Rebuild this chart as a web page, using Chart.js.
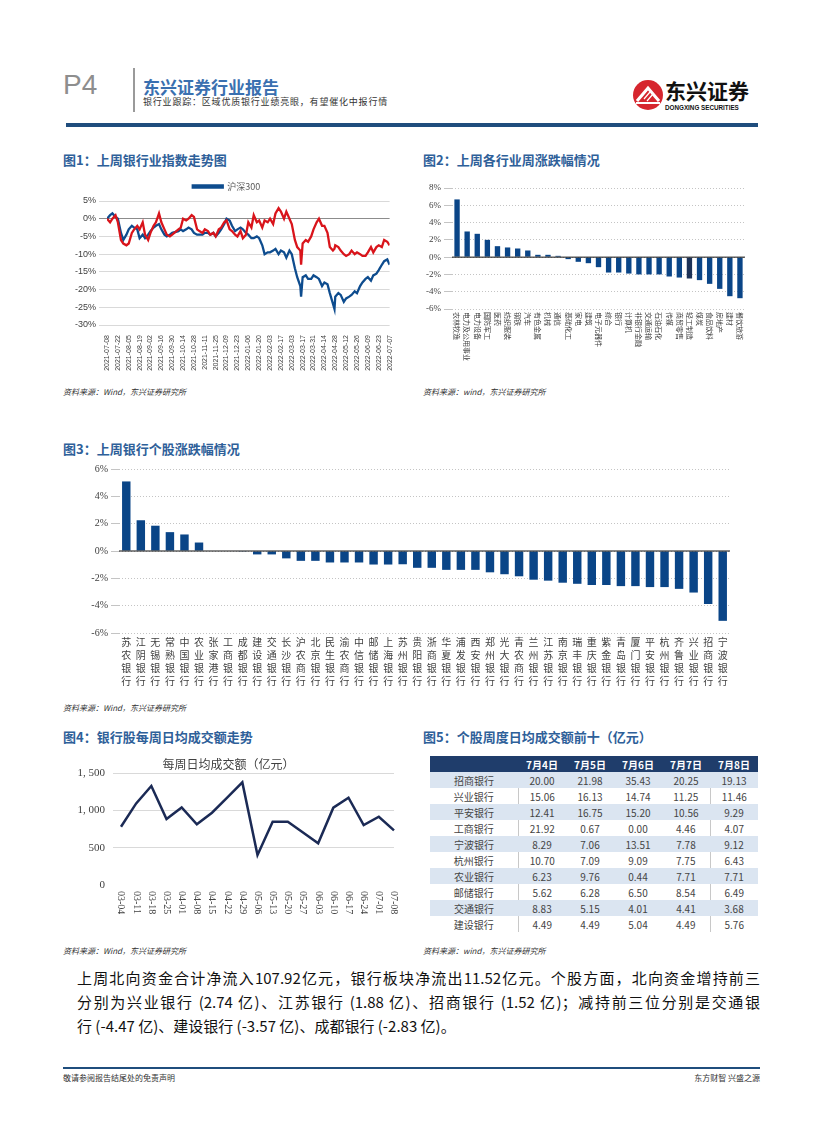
<!DOCTYPE html>
<html>
<head>
<meta charset="utf-8">
<script src="https://cdn.jsdelivr.net/npm/chart.js@4.4.1/dist/chart.umd.min.js"></script>
<style>
body { margin: 0; width: 827px; height: 1122px; position: relative; background: #fff; overflow: hidden; font-family: "Noto Sans CJK SC", sans-serif; }
.abs { position: absolute; }
.ttl { font-size: 13px; line-height: 14px; font-weight: bold; color: #2e6099; white-space: nowrap; }
.src { font-size: 8px; line-height: 9px; font-style: italic; color: #333; white-space: nowrap; }
.para { left: 77px; width: 683px; font-size: 15px; line-height: 20px; color: #111; text-align: justify; text-align-last: justify; white-space: nowrap; }
table { border-collapse: collapse; font-size: 10px; color: #444; }
td, th { height: 16px; padding: 0; text-align: center; }
th { background: #1f3d6b; color: #fff; font-weight: bold; }
</style>
</head>
<body>

<div class="abs" style="left:63px;top:70px;font-family:'Liberation Sans';font-size:28px;line-height:30px;color:#8e8e8e;">P4</div>
<div class="abs" style="left:133px;top:68px;width:2px;height:44px;background:#9a9a9a;"></div>
<div class="abs" style="left:143px;top:78px;font-size:17px;line-height:17px;font-weight:bold;color:#3a70b0;">东兴证券行业报告</div>
<div class="abs" style="left:143px;top:97px;font-size:9px;line-height:10px;color:#333;letter-spacing:0.8px;">银行业跟踪：区域优质银行业绩亮眼，有望催化中报行情</div>
<svg class="abs" style="left:630px;top:76px;" width="130" height="40">
  <circle cx="18" cy="19" r="15" fill="#d6262e"/>
  <path d="M7 25 L18 12 L29 25" stroke="#fff" stroke-width="3" fill="none"/>
  <path d="M11 21 L17 14 M14 23 L20 16 M17 25 L23 18" stroke="#fff" stroke-width="1.2" fill="none"/>
  <rect x="6" y="26" width="24" height="2" fill="#fff"/>
  <text x="35" y="23" font-family="Noto Sans CJK SC" font-weight="bold" font-size="21" fill="#111">东兴证券</text>
  <text x="35" y="34" font-family="Liberation Sans" font-weight="bold" font-size="6.3" fill="#111">DONGXING SECURITIES</text>
</svg>
<div class="abs" style="left:66px;top:123px;width:692px;height:4px;background:#1f4d7d;"></div>

<div class="abs ttl" style="left:63px;top:153px;">图1：上周银行业指数走势图</div>
<div class="abs ttl" style="left:423px;top:153px;">图2：上周各行业周涨跌幅情况</div>
<canvas id="chart1" class="abs" style="left:63px;top:174px;" width="337" height="206"></canvas>
<canvas id="chart2" class="abs" style="left:420px;top:178px;" width="340" height="192"></canvas>
<div class="abs src" style="left:63px;top:387px;">资料来源：Wind，东兴证券研究所</div>
<div class="abs src" style="left:423px;top:387px;">资料来源：wind，东兴证券研究所</div>

<div class="abs ttl" style="left:63px;top:442px;">图3：上周银行个股涨跌幅情况</div>
<canvas id="chart3" class="abs" style="left:63px;top:460px;" width="680" height="240"></canvas>
<div class="abs src" style="left:63px;top:703px;">资料来源：Wind，东兴证券研究所</div>

<div class="abs ttl" style="left:63px;top:730px;">图4：银行股每周日均成交额走势</div>
<div class="abs ttl" style="left:423px;top:730px;">图5：个股周度日均成交额前十（亿元）</div>
<canvas id="chart4" class="abs" style="left:63px;top:750px;" width="340" height="177"></canvas>
<div class="abs" style="left:430px;top:756px;">
  <table id="tbl5"></table>
</div>
<div class="abs src" style="left:63px;top:946px;">资料来源：Wind，东兴证券研究所</div>
<div class="abs src" style="left:423px;top:946px;">资料来源：wind，东兴证券研究所</div>

<div class="abs para" style="top:968px;">上周北向资金合计净流入107.92亿元，银行板块净流出11.52亿元。个股方面，北向资金增持前三</div>
<div class="abs para" style="top:992px;">分别为兴业银行 (2.74 亿)、江苏银行 (1.88 亿)、招商银行 (1.52 亿)；减持前三位分别是交通银</div>
<div class="abs para" style="top:1016px;text-align-last:left;">行 (-4.47 亿)、建设银行 (-3.57 亿)、成都银行 (-2.83 亿)。</div>

<div class="abs" style="left:63px;top:1067px;width:697px;height:2px;background:#1f4d7d;"></div>
<div class="abs" style="left:63px;top:1073px;font-size:8px;line-height:9px;color:#333;">敬请参阅报告结尾处的免责声明</div>
<div class="abs" style="left:660px;top:1073px;width:100px;text-align:right;font-size:8px;line-height:9px;color:#333;">东方财智 兴盛之源</div>

<script>
// 图1 数据
var dates1 = [
    '2021-07-08','2021-07-12','2021-07-15','2021-07-19','2021-07-22','2021-07-26','2021-07-29',
    '2021-08-02','2021-08-05','2021-08-09','2021-08-12','2021-08-16','2021-08-19','2021-08-23','2021-08-26','2021-08-30',
    '2021-09-02','2021-09-06','2021-09-09','2021-09-13','2021-09-16','2021-09-20','2021-09-23','2021-09-27','2021-09-30',
    '2021-10-08','2021-10-11','2021-10-14','2021-10-18','2021-10-21','2021-10-25','2021-10-28',
    '2021-11-01','2021-11-04','2021-11-08','2021-11-11','2021-11-15','2021-11-18','2021-11-22','2021-11-25','2021-11-29',
    '2021-12-02','2021-12-06','2021-12-09','2021-12-13','2021-12-16','2021-12-20','2021-12-23','2021-12-27','2021-12-30',
    '2022-01-03','2022-01-06','2022-01-10','2022-01-13','2022-01-17','2022-01-20','2022-01-24','2022-01-27','2022-01-31',
    '2022-02-03','2022-02-07','2022-02-10','2022-02-14','2022-02-17','2022-02-21','2022-02-24','2022-02-28',
    '2022-03-03','2022-03-07','2022-03-10','2022-03-14','2022-03-15','2022-03-17','2022-03-21','2022-03-24','2022-03-28','2022-03-31',
    '2022-04-04','2022-04-07','2022-04-11','2022-04-14','2022-04-18','2022-04-21','2022-04-25','2022-04-27','2022-04-28',
    '2022-05-02','2022-05-05','2022-05-09','2022-05-12','2022-05-16','2022-05-19','2022-05-23','2022-05-26','2022-05-30',
    '2022-06-02','2022-06-06','2022-06-09','2022-06-13','2022-06-16','2022-06-20','2022-06-23','2022-06-27','2022-06-30',
    '2022-07-04','2022-07-07'
];
var hs300 = [
    0, 1, 1.5, 0.5, 0, -4, -6,
    -4.5, -3, -2, -2.5, -3, -5.5, -4.5, -5.5, -4.5,
    -3.5, -2.5, -2, -1.5, -3, -4.5, -5, -4.5, -4,
    -3.5, -3, -3.5, -3, -2.5, -3, -4,
    -4.5, -4.5, -4.5, -4, -4, -4.5, -4, -5, -4,
    -3, -1.5, 0, -0.5, -2, -3.5, -3, -2.5, -3,
    -4, -4.5, -5.5, -5.5, -5, -5.5, -7.5, -10, -9.5,
    -9.5, -9, -8.5, -10, -9, -9.5, -11, -9,
    -10, -14, -16.5, -19, -22, -16.5, -16, -17, -17, -16,
    -16.5, -17, -19, -18, -18.5, -21, -24, -25.5, -22,
    -21, -21.5, -23.5, -22.5, -22, -21.5, -20.5, -21, -19,
    -18, -17, -16.5, -17.5, -16, -15.5, -14.5, -13, -12,
    -11.5, -13
];
var bankIdx = [
    0, -1, 0, 1, -1, -6, -7,
    -7.5, -7, -4, -3, -2, -3, -1, -4.5, -6,
    -4, -2, -1, 1.5, -1, -3, -4.5, -5, -4.5,
    -3, -2.5, 0, -0.5, 0, 1, 0.5,
    -3, -3.5, -4, -3, -3.5, -4.5, -4, -5, -3,
    -2.5, -1, -0.5, -3, -3.5, -4.5, -5, -3.5, -5.5,
    -4.5, -1, -2.5, 1, -1, -0.5, -2.5, -0.5, -1,
    0, -1.5, 1.5, 3, 2, 0, 2, 0,
    -1.5, -6, -8, -9, -13, -7, -6, -6.5, -5, -3,
    -1, 0, -2, -2, -4, -8, -9, -8.5, -7.5,
    -8, -9, -10, -10.5, -10, -9, -10, -9.5, -10,
    -10.5, -10.5, -9.5, -8, -9.5, -8, -7.5, -8, -6,
    -6.5, -7.5
];
var xTicks1 = ['2021-07-08','2021-07-22','2021-08-05','2021-08-19','2021-09-02','2021-09-16','2021-09-30',
    '2021-10-14','2021-10-28','2021-11-11','2021-11-25','2021-12-09','2021-12-23','2022-01-06','2022-01-20',
    '2022-02-03','2022-02-17','2022-03-03','2022-03-17','2022-03-31','2022-04-14','2022-04-28','2022-05-12',
    '2022-05-26','2022-06-09','2022-06-23','2022-07-07'];

// 图2 数据
var industries = ['农林牧渔','电力及公用事业','电力设备','国防军工','医药','纺织服装','钢铁','汽车','有色金属','机械',
    '通信','基础化工','家电','建筑','电子元器件','综合','银行','计算机','非银行金融','交通运输',
    '石油石化','传媒','商贸零售','轻工制造','煤炭','食品饮料','房地产','建材','餐饮旅游'];
var industryChg = [6.68, 2.97, 2.70, 2.0, 1.27, 1.12, 1.0, 0.77, 0.27, 0.27,
    0.15, -0.23, -0.54, -0.7, -1.16, -1.78, -1.78, -1.9, -2.0, -2.0,
    -2.0, -2.24, -2.36, -2.47, -2.66, -3.09, -3.67, -4.52, -4.75];

// 图3 数据
var banks = ['苏农银行','江阴银行','无锡银行','常熟银行','中国银行','农业银行','张家港行','工商银行','成都银行','建设银行',
    '交通银行','长沙银行','沪农商行','北京银行','民生银行','渝农商行','中信银行','邮储银行','上海银行','苏州银行',
    '贵阳银行','浙商银行','华夏银行','浦发银行','西安银行','郑州银行','光大银行','青农商行','兰州银行','江苏银行',
    '南京银行','瑞丰银行','重庆银行','紫金银行','青岛银行','厦门银行','平安银行','杭州银行','齐鲁银行','兴业银行',
    '招商银行','宁波银行'];
var bankChg = [5.09, 2.25, 1.85, 1.38, 1.21, 0.62, 0, 0, -0.05, -0.25,
    -0.25, -0.54, -0.72, -0.72, -0.84, -0.84, -0.84, -0.99, -0.99, -0.97,
    -1.23, -1.23, -1.38, -1.38, -1.38, -1.56, -1.70, -1.85, -2.10, -2.17,
    -2.32, -2.40, -2.49, -2.49, -2.57, -2.57, -2.64, -2.64, -2.77, -3.04,
    -3.88, -5.11];

// 图4 数据
var weeks = ['03-04','03-11','03-18','03-25','04-01','04-08','04-15','04-22','04-29','05-06',
    '05-13','05-20','05-27','06-03','06-10','06-17','06-24','07-01','07-08'];
var weeklyTurnover = [783, 1097, 1330, 887, 1043, 815, 972, 1173, 1379, 403,
    851, 851, 707, 560, 1039, 1173, 806, 918, 734];

// 图5 数据
var tblDays = ['7月4日','7月5日','7月6日','7月7日','7月8日'];
var tblBanks = ['招商银行','兴业银行','平安银行','工商银行','宁波银行','杭州银行','农业银行','邮储银行','交通银行','建设银行'];
var tblValues = [
    [20.00, 21.98, 35.43, 20.25, 19.13],
    [15.06, 16.13, 14.74, 11.25, 11.46],
    [12.41, 16.75, 15.20, 10.56, 9.29],
    [21.92, 0.67, 0.00, 4.46, 4.07],
    [8.29, 7.06, 13.51, 7.78, 9.12],
    [10.70, 7.09, 9.09, 7.75, 6.43],
    [6.23, 9.76, 0.44, 7.71, 7.71],
    [5.62, 6.28, 6.50, 8.54, 6.49],
    [8.83, 5.15, 4.01, 4.41, 3.68],
    [4.49, 4.49, 5.04, 4.49, 5.76]
];

function dayOf(s) {
    var p = s.split('-');
    return (Date.UTC(+p[0], +p[1] - 1, +p[2]) - Date.UTC(2021, 6, 8)) / 864e5;
}

// 竖排的 x 轴标签
var vertLabels = {
    id: 'vertLabels',
    afterDraw: function (chart, args, opts) {
        if (!opts.mode) return;
        var xs = chart.scales.x;
        var ctx = chart.ctx;
        ctx.save();
        ctx.font = opts.font;
        ctx.fillStyle = opts.color;
        chart.data.labels.forEach(function (lab, i) {
            var x = xs.getPixelForValue(i);
            if (opts.mode === 'rot') {
                ctx.save();
                ctx.translate(x, xs.top + opts.pad);
                ctx.rotate(Math.PI / 2);
                ctx.textAlign = 'left';
                ctx.textBaseline = 'middle';
                ctx.fillText(lab, 0, 0);
                ctx.restore();
            } else {
                ctx.textAlign = 'center';
                ctx.textBaseline = 'top';
                lab.split('').forEach(function (ch, j) {
                    ctx.fillText(ch, x, xs.top + opts.pad + j * opts.step);
                });
            }
        });
        ctx.restore();
    }
};

var zeroLine = {
    id: 'zeroLine',
    afterDatasetsDraw: function (chart, args, opts) {
        if (!opts.color) return;
        var y = chart.scales.y.getPixelForValue(0);
        var a = chart.chartArea;
        var ctx = chart.ctx;
        ctx.save();
        ctx.strokeStyle = opts.color;
        ctx.lineWidth = opts.width || 1;
        ctx.beginPath();
        ctx.moveTo(a.left, y);
        ctx.lineTo(a.right, y);
        ctx.stroke();
        ctx.restore();
    }
};

window.onload = function () {
    // 图1
    var ctx = document.getElementById('chart1').getContext('2d');
    new Chart(ctx, {
        type: 'line',
        data: {
            datasets: [{
                label: '银行',
                data: bankIdx.map(function (v, i) { return { x: dayOf(dates1[i]), y: v }; }),
                borderColor: '#d9141b', backgroundColor: '#d9141b',
                borderWidth: 2.3, pointRadius: 0, tension: 0
            }, {
                label: '沪深300',
                data: hs300.map(function (v, i) { return { x: dayOf(dates1[i]), y: v }; }),
                borderColor: '#0e4c8e', backgroundColor: '#0e4c8e',
                borderWidth: 2.3, pointRadius: 0, tension: 0
            }]
        },
        options: {
            responsive: false, animation: false,
            layout: { padding: { top: 2, right: 10, left: 0, bottom: 0 } },
            plugins: {
                legend: {
                    labels: {
                        filter: function (item) { return item.text === '沪深300'; },
                        boxWidth: 30, boxHeight: 2, padding: 6,
                        font: { size: 9, family: 'Noto Sans CJK SC' }, color: '#595959'
                    }
                },
                tooltip: { enabled: false }
            },
            scales: {
                x: {
                    type: 'linear', min: 0, max: 364,
                    afterBuildTicks: function (s) { s.ticks = xTicks1.map(function (d) { return { value: dayOf(d) }; }); },
                    ticks: {
                        autoSkip: false, minRotation: 90, maxRotation: 90, padding: 2,
                        font: { size: 7, family: 'Liberation Sans' }, color: '#404040',
                        callback: function (v, i) { return xTicks1[i]; }
                    },
                    grid: { display: false }, border: { display: false },
                    afterFit: function (s) { s.height = 55; }
                },
                y: {
                    min: -30, max: 5,
                    ticks: { stepSize: 5, font: { size: 9, family: 'Liberation Sans' }, color: '#404040',
                        callback: function (v) { return v + '%'; } },
                    grid: { color: function (c) { return c.tick && c.tick.value === 0 ? '#8c8c8c' : '#d9d9d9'; } },
                    border: { display: false },
                    afterFit: function (s) { s.width = 44; }
                }
            }
        }
    });

    // 图2
    ctx = document.getElementById('chart2').getContext('2d');
    new Chart(ctx, {
        type: 'bar',
        data: {
            labels: industries,
            datasets: [{
                label: '周涨跌幅',
                data: industryChg,
                backgroundColor: industries.map(function (n) { return n === '轻工制造' ? '#1c3157' : '#0a4587'; }),
                barPercentage: 0.53, categoryPercentage: 1
            }]
        },
        plugins: [vertLabels, zeroLine],
        options: {
            responsive: false, animation: false,
            layout: { padding: { top: 10, right: 15, left: 0, bottom: 0 } },
            plugins: {
                legend: { display: false }, tooltip: { enabled: false },
                vertLabels: { mode: 'rot', font: '7px "Noto Sans CJK SC"', color: '#404040', pad: 3 },
                zeroLine: { color: '#111' }
            },
            scales: {
                x: { ticks: { display: false }, grid: { display: false }, border: { display: false },
                    afterFit: function (s) { s.height = 61; } },
                y: {
                    min: -6, max: 8,
                    ticks: { stepSize: 2, font: { size: 9, family: 'Liberation Serif' }, color: '#404040',
                        callback: function (v) { return v + '%'; } },
                    grid: { color: '#c4c4c4' }, border: { display: false, dash: [1, 2] },
                    afterFit: function (s) { s.width = 32; }
                }
            }
        }
    });

    // 图3
    ctx = document.getElementById('chart3').getContext('2d');
    new Chart(ctx, {
        type: 'bar',
        data: {
            labels: banks,
            datasets: [{
                label: '涨跌幅',
                data: bankChg,
                backgroundColor: '#0a4587',
                barPercentage: 0.58, categoryPercentage: 1
            }]
        },
        plugins: [vertLabels, zeroLine],
        options: {
            responsive: false, animation: false,
            layout: { padding: { top: 9, right: 13, left: 0, bottom: 0 } },
            plugins: {
                legend: { display: false }, tooltip: { enabled: false },
                vertLabels: { mode: 'stack', font: '10px "Noto Sans CJK SC"', color: '#404040', pad: 4, step: 13 },
                zeroLine: { color: '#111' }
            },
            scales: {
                x: { ticks: { display: false }, grid: { display: false }, border: { display: false },
                    afterFit: function (s) { s.height = 67; } },
                y: {
                    min: -6, max: 6,
                    ticks: { stepSize: 2, font: { size: 10, family: 'Liberation Serif' }, color: '#404040',
                        callback: function (v) { return v + '%'; } },
                    grid: { color: '#c4c4c4' }, border: { display: false, dash: [1, 2] },
                    afterFit: function (s) { s.width = 56; }
                }
            }
        }
    });

    // 图4
    ctx = document.getElementById('chart4').getContext('2d');
    new Chart(ctx, {
        type: 'line',
        data: {
            labels: weeks,
            datasets: [{
                label: '每周日均成交额（亿元）',
                data: weeklyTurnover,
                borderColor: '#1b2a55', borderWidth: 2.5, pointRadius: 0, tension: 0
            }]
        },
        plugins: [vertLabels],
        options: {
            responsive: false, animation: false,
            layout: { padding: { top: 7, right: 9, left: 0, bottom: 0 } },
            plugins: {
                legend: { display: false }, tooltip: { enabled: false },
                title: { display: true, text: '每周日均成交额（亿元）', color: '#404040',
                    font: { size: 12, weight: 'normal', family: 'Noto Sans CJK SC' }, padding: { top: 0, bottom: 2 } },
                vertLabels: { mode: 'rot', font: '10px "Liberation Serif"', color: '#404040', pad: 6 }
            },
            scales: {
                x: { offset: false, ticks: { display: false }, grid: { display: false }, border: { display: false },
                    afterFit: function (s) { s.height = 42; } },
                y: {
                    min: 0, max: 1500,
                    ticks: { stepSize: 500, font: { size: 11, family: 'Liberation Serif' }, color: '#404040', padding: 8,
                        callback: function (v) { return v.toLocaleString('en-US').replace(',', ', '); } },
                    grid: { color: function (c) { return c.tick && c.tick.value === 0 ? 'rgba(0,0,0,0)' : '#d9d9d9'; } },
                    border: { display: false },
                    afterFit: function (s) { s.width = 58; }
                }
            }
        }
    });

    // 图5 表格
    var html = '<tr><th style="width:88px"></th>';
    tblDays.forEach(function (d) { html += '<th style="width:48px">' + d + '</th>'; });
    html += '</tr>';
    tblBanks.forEach(function (b, i) {
        var bg = i % 2 === 0 ? '#dbe5f1' : '#fff';
        html += '<tr style="background:' + bg + '"><td>' + b + '</td>';
        tblValues[i].forEach(function (v, j) {
            var bl = (j === 0 || j === 4) && i % 2 === 1 ? 'border-left:1px solid #c8c8c8;' : '';
            html += '<td style="' + bl + '">' + v.toFixed(2) + '</td>';
        });
        html += '</tr>';
    });
    document.getElementById('tbl5').innerHTML = html;
};
</script>
</body>
</html>
